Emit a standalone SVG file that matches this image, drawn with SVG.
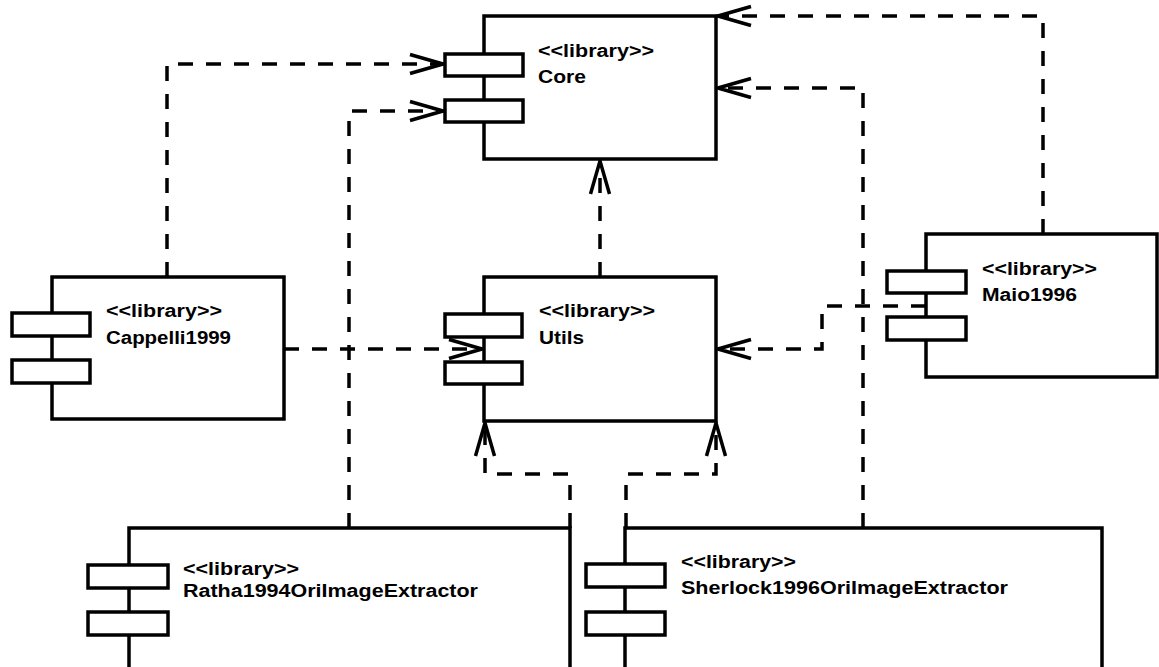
<svg xmlns="http://www.w3.org/2000/svg" width="1159" height="667" viewBox="0 0 1159 667">
<style>
.box{fill:#fff;stroke:#000;stroke-width:3.5}
.port{fill:#fff;stroke:#000;stroke-width:3.5}
.t{font-family:"Liberation Sans",Arial,sans-serif;font-weight:bold;font-size:18px;fill:#000}
.conn path{fill:none;stroke:#000;stroke-width:3.5;stroke-dasharray:15 13;marker-end:url(#arr)}
</style>
<defs>
<marker id="arr" viewBox="-36 -12 40 24" markerWidth="40" markerHeight="24" refX="0" refY="0" orient="auto" markerUnits="userSpaceOnUse">
<path d="M-33,-9.5 L0,0 L-33,9.5" fill="none" stroke="#000" stroke-width="3.5"/>
</marker>
</defs>
<rect width="1159" height="667" fill="#fff"/>
<g class="conn">
<path d="M167,277 V64 H443"/>
<path d="M349,528 V111 H443"/>
<path d="M600,277 V161"/>
<path d="M863,528 V88 H718"/>
<path d="M1043,234 V16 H718"/>
<path d="M284,349 H482"/>
<path d="M926,306 H822 V349 H718"/>
<path d="M570,528 V474 H485 V423"/>
<path d="M626,528 V474 H716 V423"/>
</g>
<g id="core">
<rect class="box" x="484" y="16" width="232" height="143"/>
<rect class="port" x="445" y="54" width="78" height="22"/>
<rect class="port" x="445" y="100" width="78" height="22"/>
<text class="t" x="538" y="57" textLength="116" lengthAdjust="spacingAndGlyphs">&lt;&lt;library&gt;&gt;</text>
<text class="t" x="538" y="83" textLength="48" lengthAdjust="spacingAndGlyphs">Core</text>
</g>
<g id="cappelli">
<rect class="box" x="52" y="277" width="232" height="142"/>
<rect class="port" x="12" y="313" width="78" height="23"/>
<rect class="port" x="12" y="360" width="78" height="23"/>
<text class="t" x="106" y="317" textLength="116" lengthAdjust="spacingAndGlyphs">&lt;&lt;library&gt;&gt;</text>
<text class="t" x="106" y="344" textLength="125" lengthAdjust="spacingAndGlyphs">Cappelli1999</text>
</g>
<g id="utils">
<rect class="box" x="484" y="277" width="232" height="144"/>
<rect class="port" x="445" y="314" width="77" height="23"/>
<rect class="port" x="445" y="362" width="77" height="22"/>
<text class="t" x="539" y="317" textLength="116" lengthAdjust="spacingAndGlyphs">&lt;&lt;library&gt;&gt;</text>
<text class="t" x="539" y="344" textLength="45" lengthAdjust="spacingAndGlyphs">Utils</text>
</g>
<g id="maio">
<rect class="box" x="926" y="234" width="231" height="143"/>
<rect class="port" x="887" y="271" width="79" height="22"/>
<rect class="port" x="887" y="317" width="79" height="23"/>
<text class="t" x="982" y="275" textLength="115" lengthAdjust="spacingAndGlyphs">&lt;&lt;library&gt;&gt;</text>
<text class="t" x="982" y="301" textLength="95" lengthAdjust="spacingAndGlyphs">Maio1996</text>
</g>
<g id="ratha">
<rect class="box" x="129" y="528" width="441" height="160"/>
<rect class="port" x="88" y="565" width="80" height="23"/>
<rect class="port" x="88" y="612" width="80" height="23"/>
<text class="t" x="183" y="575" textLength="116" lengthAdjust="spacingAndGlyphs">&lt;&lt;library&gt;&gt;</text>
<text class="t" x="183" y="597" textLength="295" lengthAdjust="spacingAndGlyphs">Ratha1994OriImageExtractor</text>
</g>
<g id="sherlock">
<rect class="box" x="625" y="528" width="477" height="160"/>
<rect class="port" x="586" y="564" width="79" height="23"/>
<rect class="port" x="586" y="612" width="79" height="23"/>
<text class="t" x="681" y="568" textLength="115" lengthAdjust="spacingAndGlyphs">&lt;&lt;library&gt;&gt;</text>
<text class="t" x="681" y="594" textLength="327" lengthAdjust="spacingAndGlyphs">Sherlock1996OriImageExtractor</text>
</g>
</svg>
